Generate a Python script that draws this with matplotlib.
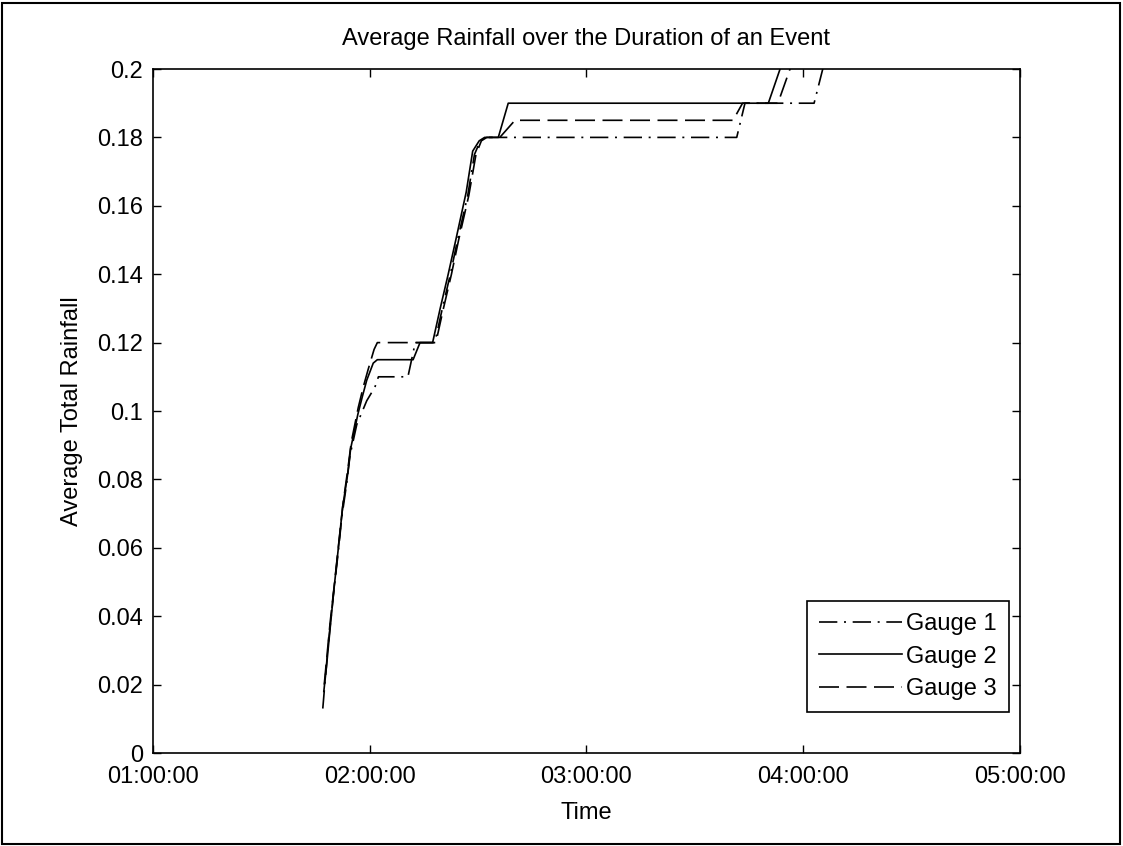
import matplotlib
matplotlib.use("Agg")
import matplotlib.pyplot as plt
import matplotlib.dates as mdates
from matplotlib.patches import Rectangle
from matplotlib.ticker import FuncFormatter, MultipleLocator
import pandas as pd

plt.rcParams["font.family"] = ["Liberation Sans", "DejaVu Sans"]

# values
gauge1_time = ["01:47:00", "01:47:38", "01:48:32", "01:49:55", "01:51:18", "01:52:16",
               "01:53:38", "01:54:32", "01:56:24", "01:59:10", "02:01:26", "02:02:24",
               "02:10:34", "02:12:36", "02:18:00", "02:20:06", "02:22:19", "02:24:18",
               "02:27:07", "02:28:59", "02:30:36", "02:32:06", "03:41:35", "03:43:52",
               "04:03:00", "04:06:36"]
gauge1_rain = [0.013, 0.021, 0.032, 0.046, 0.059, 0.069,
               0.079, 0.087, 0.096, 0.103, 0.107, 0.110,
               0.110, 0.120, 0.120, 0.130, 0.140, 0.150,
               0.163, 0.175, 0.179, 0.180, 0.180, 0.190,
               0.190, 0.205]

gauge2_time = ["01:47:17", "01:48:00", "01:48:54", "01:50:06", "01:51:25", "01:52:30",
               "01:53:49", "01:54:43", "01:56:42", "01:57:54", "01:59:10", "02:00:58",
               "02:02:06", "02:12:00", "02:13:55", "02:17:24", "02:19:30", "02:21:43",
               "02:23:49", "02:26:42", "02:28:30", "02:30:18", "02:31:48", "02:35:35",
               "02:38:20", "03:50:20", "03:53:35", "03:55:12"]
gauge2_rain = [0.018, 0.025, 0.035, 0.048, 0.061, 0.072,
               0.081, 0.089, 0.099, 0.104, 0.109, 0.114,
               0.115, 0.115, 0.120, 0.120, 0.130, 0.140,
               0.150, 0.164, 0.176, 0.179, 0.180, 0.180,
               0.190, 0.190, 0.200, 0.205]

gauge3_time = ["01:47:24", "01:48:07", "01:49:01", "01:50:17", "01:51:29", "01:52:37",
               "01:53:56", "01:54:54", "01:56:49", "01:58:12", "01:59:31", "02:01:12",
               "02:02:06", "02:18:18", "02:20:24", "02:22:37", "02:24:36", "02:27:25",
               "02:29:24", "02:30:54", "02:32:24", "02:36:00", "02:40:12", "03:40:34",
               "03:43:12", "03:52:59", "03:56:20", "03:57:36"]
gauge3_rain = [0.020, 0.028, 0.038, 0.050, 0.062, 0.073,
               0.083, 0.091, 0.101, 0.107, 0.112, 0.118,
               0.120, 0.120, 0.130, 0.140, 0.150, 0.163,
               0.175, 0.179, 0.180, 0.180, 0.185, 0.185,
               0.190, 0.190, 0.200, 0.205]

labels = ["Gauge 1", "Gauge 2", "Gauge 3"]
day = "2000-01-01 "


def to_dt(times):
    return pd.to_datetime([day + t for t in times])


fig = plt.figure(figsize=(11.23, 8.46), dpi=100)
ax = fig.add_axes([153 / 1123, 93 / 846, 867 / 1123, 684 / 846])

ax.plot(to_dt(gauge1_time), gauge1_rain, color="black", lw=1.2,
        linestyle=(0, (11, 4, 1.2, 4)), label=labels[0])
ax.plot(to_dt(gauge2_time), gauge2_rain, color="black", lw=1.2,
        linestyle="-", label=labels[1])
ax.plot(to_dt(gauge3_time), gauge3_rain, color="black", lw=1.2,
        linestyle=(0, (12, 4.5)), label=labels[2])

ax.set_xlim(pd.Timestamp(day + "01:00:00"), pd.Timestamp(day + "05:00:00"))
ax.set_ylim(0, 0.2)
ax.xaxis.set_major_locator(mdates.HourLocator(interval=1))
ax.xaxis.set_major_formatter(mdates.DateFormatter("%H:%M:%S"))
ax.yaxis.set_major_locator(MultipleLocator(0.02))
ax.yaxis.set_major_formatter(FuncFormatter(lambda v, p: "%g" % round(v, 4)))

ax.tick_params(direction="in", length=6, width=1, top=True, right=True,
               labelsize=17)
ax.tick_params(axis="x", pad=9.5)
ax.tick_params(axis="y", pad=7)
for s in ax.spines.values():
    s.set_linewidth(1.2)

ax.set_title("Average Rainfall over the Duration of an Event", fontsize=17, pad=17)
ax.set_xlabel("Time", fontsize=17, labelpad=10)
ax.set_ylabel("Average Total Rainfall", fontsize=17, labelpad=10)

leg = ax.legend(loc="lower right", bbox_to_anchor=(0.987, 0.060), fontsize=17,
                fancybox=False, framealpha=1, edgecolor="black",
                handlelength=3.5, handletextpad=0.2, labelspacing=0.45,
                borderpad=0.5, borderaxespad=0)
leg.get_frame().set_linewidth(1.2)

fig.patches.append(Rectangle((2 / 1123, 2 / 846), 1118 / 1123, 841 / 846,
                             transform=fig.transFigure, fill=False,
                             edgecolor="black", linewidth=1.5))

fig.savefig("out.png", dpi=100)
